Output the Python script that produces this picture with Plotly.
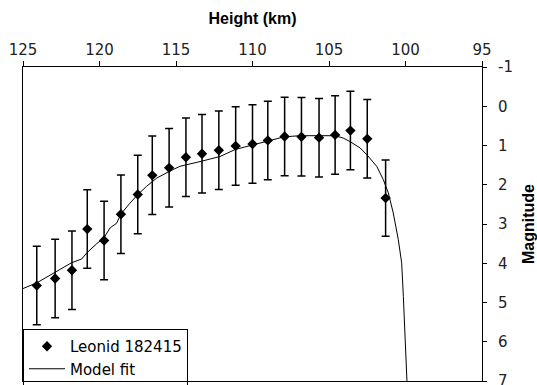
import plotly.graph_objects as go

# Observed meteor: height (km), absolute magnitude and its uncertainty
height_km = [124.1, 122.9, 121.8, 120.8, 119.7, 118.6, 117.5, 116.55, 115.45, 114.35, 113.3,
             112.2, 111.1, 110.0, 109.0, 107.9, 106.8, 105.65, 104.6, 103.6, 102.5, 101.3]
magnitude = [4.57, 4.39, 4.18, 3.13, 3.42, 2.75, 2.25, 1.76, 1.57, 1.30, 1.21,
             1.12, 1.01, 0.96, 0.87, 0.77, 0.78, 0.80, 0.73, 0.62, 0.83, 2.34]
mag_error = [1.0, 1.0, 1.0, 1.0, 1.0, 1.0, 1.0, 1.0, 1.0, 1.0, 1.0,
             1.0, 1.0, 1.0, 1.0, 1.0, 1.0, 1.0, 1.0, 1.0, 1.0, 0.97]

# Model light curve
model_height = [125.35, 124.10, 121.84, 121.16, 120.84, 120.18, 119.72, 119.31, 118.88, 118.61,
                118.01, 117.50, 116.92, 116.26, 115.44, 114.74, 113.43, 112.12, 111.12, 109.95,
                108.97, 107.94, 106.90, 105.67, 104.61, 104.07, 103.63, 102.97, 102.52, 101.88,
                101.45, 101.12, 100.80, 100.47, 100.25, 100.14, 100.08, 99.92, 99.90]
model_mag = [4.70, 4.50, 3.99, 3.89, 3.74, 3.50, 3.36, 3.10, 2.98, 2.75,
             2.47, 2.25, 2.04, 1.83, 1.66, 1.53, 1.41, 1.28, 1.10, 0.98,
             0.87, 0.78, 0.75, 0.75, 0.75, 0.81, 0.90, 1.06, 1.24, 1.53,
             1.87, 2.21, 2.72, 3.40, 3.99, 4.85, 5.52, 6.97, 7.05]

x_ticks = [125, 120, 115, 110, 105, 100, 95]
x_tick_labels = ["125", "120", "115", "110", "105", "100", "95"]
y_ticks = [-1, 0, 1, 2, 3, 4, 5, 6, 7]
y_tick_labels = ["-1", "0", "1", "2", "3", "4", "5", "6", "7"]

tick_font = dict(family="DejaVu Sans", size=15, color="#222222")
title_font = dict(family="Liberation Sans, Arial", size=16, color="black", weight="bold")

fig = go.Figure()

fig.add_trace(go.Scatter(
    x=height_km, y=magnitude, mode="markers", name="Leonid 182415",
    marker=dict(symbol="diamond", size=8, color="black"),
    error_y=dict(type="data", array=mag_error, visible=True,
                 color="black", thickness=1.5, width=4),
))
fig.add_trace(go.Scatter(
    x=model_height, y=model_mag, mode="lines", name="Model fit",
    line=dict(color="black", width=1),
))

fig.update_layout(
    width=537, height=385,
    margin=dict(l=23, r=55, t=67, b=4, autoexpand=False),
    paper_bgcolor="white", plot_bgcolor="white",
    showlegend=True,
    legend=dict(
        x=0, y=-0.016, xanchor="left", yanchor="bottom",
        bgcolor="rgba(0,0,0,0)", bordercolor="black", borderwidth=1,
        font=dict(family="DejaVu Sans", size=15, color="black"),
        tracegroupgap=0, itemwidth=36,
    ),
    xaxis=dict(
        side="top", range=[125, 95], tickvals=x_ticks, ticktext=x_tick_labels,
        showline=True, mirror=True, linecolor="black", linewidth=1,
        ticks="outside", ticklen=5, tickcolor="black",
        showgrid=False, zeroline=False, tickfont=tick_font,
        ticklabeloverflow="allow", automargin=False,
        title=dict(text="Height (km)", font=title_font, standoff=12),
    ),
    yaxis=dict(
        side="right", range=[7, -1], tickvals=y_ticks, ticktext=y_tick_labels,
        showline=True, mirror=True, linecolor="black", linewidth=1,
        ticks="outside", ticklen=4, tickcolor="black", ticklabelstandoff=8,
        showgrid=False, zeroline=False, tickfont=tick_font,
        ticklabeloverflow="allow", automargin=False,
        title=dict(text="Magnitude", font=title_font, standoff=14),
    ),
)

fig.write_html("out.html")
